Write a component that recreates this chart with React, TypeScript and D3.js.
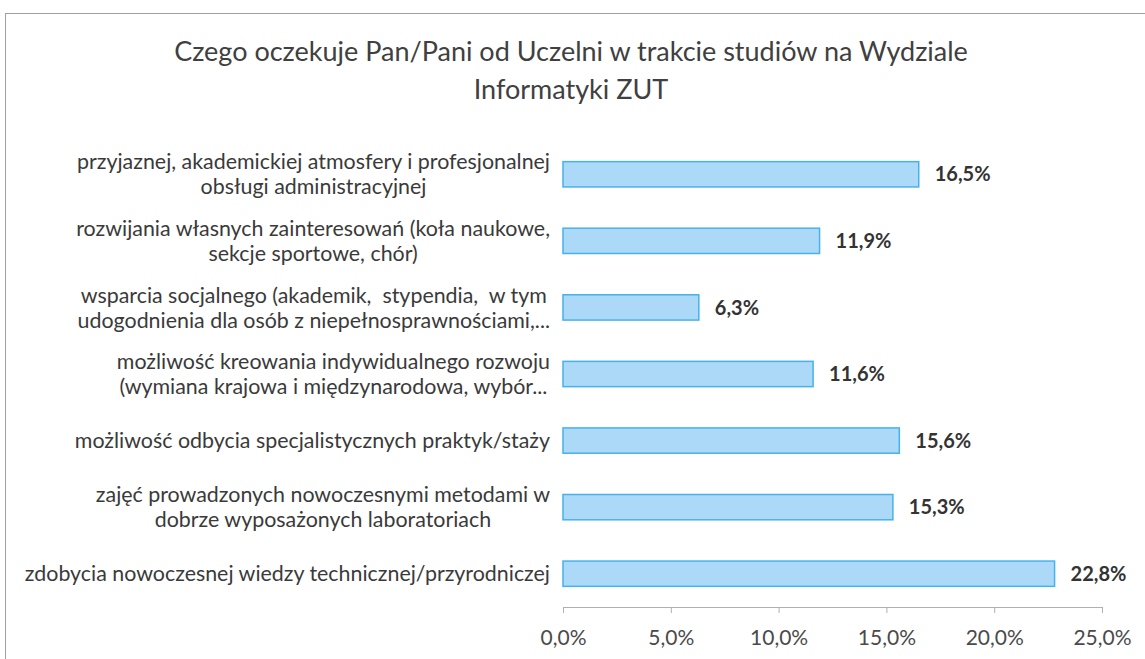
import React, { useEffect, useRef } from "react"
import * as d3 from "d3"

const categories = [
  ["przyjaznej, akademickiej atmosfery i profesjonalnej", "obsługi administracyjnej"],
  ["rozwijania własnych zainteresowań (koła naukowe,", "sekcje sportowe, chór)"],
  ["wsparcia socjalnego (akademik,  stypendia,  w tym", "udogodnienia dla osób z niepełnosprawnościami,..."],
  ["możliwość kreowania indywidualnego rozwoju", "(wymiana krajowa i międzynarodowa, wybór..."],
  ["możliwość odbycia specjalistycznych praktyk/staży"],
  ["zajęć prowadzonych nowoczesnymi metodami w", "dobrze wyposażonych laboratoriach"],
  ["zdobycia nowoczesnej wiedzy technicznej/przyrodniczej"],
]
const values = [16.5, 11.9, 6.3, 11.6, 15.6, 15.3, 22.8]
const ticks = [0, 5, 10, 15, 20, 25]
const titleLines = [
  "Czego oczekuje Pan/Pani od Uczelni w trakcie studiów na Wydziale",
  "Informatyki ZUT",
]

const W = 1145, H = 659
const FONT = "Lato, 'Open Sans', sans-serif"
const fmt = (v: number) => v.toFixed(1).replace(".", ",") + "%"

export default function App() {
  const ref = useRef<SVGSVGElement>(null)

  useEffect(() => {
    const svg = d3.select(ref.current)
    svg.selectAll("*").remove()

    // outer frame (chart area border)
    svg.append("rect")
      .attr("x", 5.5).attr("y", 13.5)
      .attr("width", 1200).attr("height", 800)
      .attr("fill", "white").attr("stroke", "#a0a0a0")

    const left = 563, right = 1102, top = 141, bottom = 607

    const x = d3.scaleLinear().domain([0, 25]).range([left, right])
    const y = d3.scaleBand<number>()
      .domain(d3.range(values.length))
      .range([top, bottom])
      .paddingInner(0.62).paddingOuter(0.31)

    // title
    svg.append("g").selectAll("text")
      .data(titleLines).enter().append("text")
      .attr("x", 571).attr("y", (d, i) => 61 + i * 38)
      .attr("text-anchor", "middle")
      .style("font-family", FONT).style("font-size", "27px")
      .attr("fill", "#404040")
      .text(d => d)

    // bars
    svg.append("g").selectAll("rect")
      .data(values).enter().append("rect")
      .attr("x", x(0))
      .attr("y", (d, i) => y(i)!)
      .attr("width", d => x(d) - x(0))
      .attr("height", y.bandwidth())
      .attr("fill", "#abd9f7")
      .attr("stroke", "#46b2ea").attr("stroke-width", 1.5)

    // value labels
    svg.append("g").selectAll("text")
      .data(values).enter().append("text")
      .attr("x", d => x(d) + 16)
      .attr("y", (d, i) => y(i)! + y.bandwidth() / 2)
      .attr("dy", "0.36em")
      .style("font-family", FONT).style("font-size", "20px")
      .style("font-weight", "bold")
      .attr("fill", "#333")
      .text(d => fmt(d))

    // category labels, multi-line centred block, right aligned
    const labelRight = 550
    const lineH = 25
    categories.forEach((lines, i) => {
      const g = svg.append("g")
      const cy = y(i)! + y.bandwidth() / 2
      const texts = lines.map((l, j) =>
        g.append("text")
          .attr("y", cy + (j - (lines.length - 1) / 2) * lineH)
          .attr("dy", "0.36em")
          .attr("text-anchor", "middle")
          .style("font-family", FONT).style("font-size", "21.4px")
          .attr("fill", "#3a3a3a")
          .style("white-space", "pre")
          .text(l))
      const maxW = d3.max(texts, t => (t.node() as SVGTextElement).getComputedTextLength()) || 0
      texts.forEach(t => t.attr("x", labelRight - maxW / 2))
    })

    // x axis
    const axis = svg.append("g")
      .attr("transform", `translate(0,${bottom})`)
      .call(d3.axisBottom(x).tickValues(ticks).tickSize(6).tickSizeOuter(0).tickFormat(d => fmt(+d)))
    axis.select(".domain").attr("stroke", "#b0b0b0")
    axis.selectAll(".tick line").attr("stroke", "#b0b0b0")
    axis.selectAll(".tick text")
      .attr("y", 23)
      .style("font-family", FONT).style("font-size", "21px")
      .attr("fill", "#4a4a4a")
  }, [])

  return (
    <svg ref={ref} width={W} height={H}
      style={{ position: "absolute", left: 0, top: 0, background: "white" }} />
  )
}
